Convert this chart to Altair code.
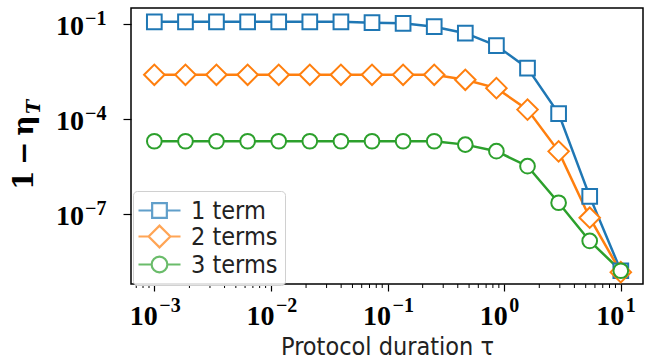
import altair as alt
import pandas as pd

# ---- data ----
tau = [0.001, 0.00185, 0.00341, 0.00631, 0.01166, 0.02154, 0.03981, 0.07356,
       0.1359, 0.2512, 0.4642, 0.8577, 1.585, 2.929, 5.412, 10.0]
one_term = [0.117, 0.117, 0.117, 0.117, 0.117, 0.117, 0.117, 0.110,
            0.105, 0.082, 0.051, 0.0207, 0.0040, 1.45e-4, 3.5e-7, 1.55e-9]
two_terms = [2.46e-3, 2.46e-3, 2.46e-3, 2.46e-3, 2.46e-3, 2.46e-3, 2.46e-3, 2.46e-3,
             2.46e-3, 2.46e-3, 1.71e-3, 9.3e-4, 1.95e-4, 9.3e-6, 7.4e-8, 1.4e-9]
three_terms = [1.94e-5, 1.94e-5, 1.94e-5, 1.94e-5, 1.94e-5, 1.94e-5, 1.94e-5, 1.94e-5,
               1.94e-5, 1.94e-5, 1.52e-5, 9.4e-6, 3.16e-6, 2.2e-7, 1.36e-8, 1.55e-9]
series_names = ["1 term", "2 terms", "3 terms"]
colors = ["#1f77b4", "#ff7f0e", "#2ca02c"]
x_tick_exps = [-3, -2, -1, 0, 1]
y_tick_exps = [-1, -4, -7]
minor_mult = [2, 3, 4, 5, 6, 7, 8, 9]
minor_decades = [-4, -3, -2, -1, 0, 1]
x_title = "Protocol duration τ"
y_title_main = "1\u2009−\u2009η"
y_title_sub = "T"

rows = []
for name, vals in zip(series_names, [one_term, two_terms, three_terms]):
    for i, (t, v) in enumerate(zip(tau, vals)):
        rows.append({"tau": t, "value": v, "series": name, "i": i})
df = pd.DataFrame(rows)

XMIN, XMAX = 6.31e-4, 15.5
YMIN, YMAX = 5.9e-10, 0.32

minor_df = pd.DataFrame({"tau": [m * 10.0 ** d for d in minor_decades for m in minor_mult
                                 if XMIN <= m * 10.0 ** d <= XMAX]})
xlab_df = pd.DataFrame({"tau": [10.0 ** e for e in x_tick_exps],
                        "base": ["10"] * len(x_tick_exps),
                        "exp": [str(e).replace("-", "−") for e in x_tick_exps]})
ylab_df = pd.DataFrame({"value": [10.0 ** e for e in y_tick_exps],
                        "base": ["10"] * len(y_tick_exps),
                        "exp": [str(e).replace("-", "−") for e in y_tick_exps]})
one_row = pd.DataFrame({"k": [0]})

W, H = 512, 276
xscale = alt.Scale(type="log", domain=[XMIN, XMAX], nice=False)
yscale = alt.Scale(type="log", domain=[YMIN, YMAX], nice=False)
cscale = alt.Scale(domain=series_names, range=colors)

NARROW = "Liberation Sans Narrow, DejaVu Sans Condensed, Roboto, sans-serif"
SERIF_B = "Liberation Serif"

x_enc = alt.X("tau:Q", scale=xscale,
              axis=alt.Axis(values=[10.0 ** e for e in x_tick_exps], labels=False,
                            title=x_title, grid=False, domain=False,
                            tickSize=7, tickWidth=1.2, tickColor="black",
                            titleFont=NARROW, titleFontSize=25, titleFontWeight="normal",
                            titleColor="#222222", titlePadding=43))
y_enc = alt.Y("value:Q", scale=yscale,
              axis=alt.Axis(values=[10.0 ** e for e in y_tick_exps], labels=False,
                            title=None, grid=False, domain=False,
                            tickSize=8, tickWidth=1.2, tickColor="black"))

base = alt.Chart(df)

lines = base.mark_line(strokeWidth=2.5).encode(
    x=x_enc, y=y_enc,
    stroke=alt.Stroke("series:N", scale=cscale, legend=None),
    detail="series:N", order="i:Q")

points = base.mark_point(filled=True, fill="white", strokeWidth=2, opacity=1).encode(
    x="tau:Q", y="value:Q",
    stroke=alt.Stroke("series:N", scale=cscale, legend=None),
    shape=alt.Shape("series:N", scale=alt.Scale(domain=series_names,
                                                range=["square", "diamond", "circle"]),
                    legend=None),
    size=alt.condition("datum.series == '2 terms'", alt.value(420), alt.value(216)))

sq = "M-2.8,0H-0.98M0.98,0H2.8M-0.98,-0.98H0.98V0.98H-0.98Z"
di = "M-2.8,0H-1.45M1.45,0H2.8M-1.45,0L0,-1.45L1.45,0L0,1.45Z"
ci = "M-2.8,0H-1.05M1.05,0H2.8M-1.05,0A1.05,1.05 0 1,1 1.05,0A1.05,1.05 0 1,1 -1.05,0Z"

legend_props = dict(orient="none", legendX=2, legendY=183, title=None,
                    labelFont=NARROW, labelFontSize=25, labelColor="#222222",
                    symbolStrokeWidth=2.2, symbolFillColor="white", symbolSize=225,
                    symbolOffset=7, labelOffset=19, padding=7, rowPadding=-4,
                    strokeColor="#d0d0d0", fillColor="rgba(255,255,255,0.85)",
                    cornerRadius=4)

legend_layer = base.mark_point(filled=True, fill="white", size=225, strokeWidth=2.2).encode(
    x="tau:Q", y="value:Q",
    stroke=alt.Stroke("series:N", scale=alt.Scale(domain=series_names, range=colors),
                      legend=alt.Legend(**legend_props)),
    shape=alt.Shape("series:N", scale=alt.Scale(domain=series_names, range=[sq, di, ci]),
                    legend=alt.Legend(**legend_props)),
).transform_filter("false")

minor = alt.Chart(minor_df).mark_rule(color="black", strokeWidth=1).encode(
    x=alt.X("tau:Q"), y=alt.value(H), y2=alt.value(H + 4))

# tick labels 10^e drawn as base + superscript
xl_base = alt.Chart(xlab_df).mark_text(font=SERIF_B, fontWeight="bold", fontSize=28,
                                       align="right", baseline="alphabetic", dx=3.5,
                                       color="black").encode(
    x="tau:Q", y=alt.value(317), text="base:N")
xl_exp = alt.Chart(xlab_df).mark_text(font=SERIF_B, fontWeight="bold", fontSize=20,
                                      align="left", baseline="alphabetic", dx=5,
                                      color="black").encode(
    x="tau:Q", y=alt.value(303.5), text="exp:N")
yl_base = alt.Chart(ylab_df).mark_text(font=SERIF_B, fontWeight="bold", fontSize=28,
                                       align="right", baseline="alphabetic", dy=11.5,
                                       color="black").encode(
    y="value:Q", x=alt.value(-47), text="base:N")
yl_exp = alt.Chart(ylab_df).mark_text(font=SERIF_B, fontWeight="bold", fontSize=20,
                                      align="left", baseline="alphabetic", dy=1.5,
                                      color="black").encode(
    y="value:Q", x=alt.value(-46), text="exp:N")

# y title 1 − η_T (rotated)
yt_main = alt.Chart(one_row).mark_text(text=y_title_main, font="DejaVu Serif",
                                       fontWeight="bold", fontSize=28, angle=270,
                                       align="left", baseline="alphabetic",
                                       color="black").encode(
    x=alt.value(-98), y=alt.value(182))
yt_sub = alt.Chart(one_row).mark_text(text=y_title_sub, font="DejaVu Serif",
                                      fontWeight="bold", fontStyle="italic", fontSize=19,
                                      angle=270, align="left", baseline="alphabetic",
                                      color="black").encode(
    x=alt.value(-91), y=alt.value(106))

chart = alt.layer(lines, points, legend_layer, minor, xl_base, xl_exp, yl_base, yl_exp,
                  yt_main, yt_sub).resolve_scale(
    shape="independent", stroke="independent"
).properties(
    width=W, height=H,
    autosize=alt.AutoSizeParams(type="none"),
    padding={"left": 131, "top": 8, "right": 2, "bottom": 79},
).configure_view(stroke="black", strokeWidth=1.5)

chart.save("out.html", embed_options={"renderer": "svg", "actions": False})
